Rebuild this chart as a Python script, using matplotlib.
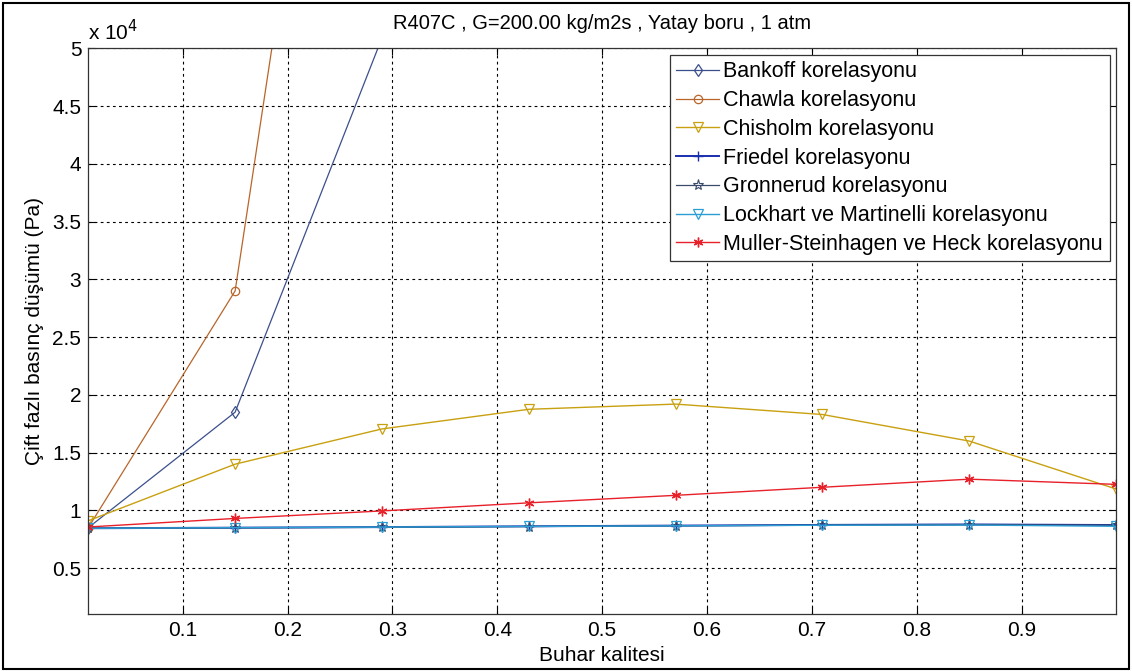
import matplotlib
matplotlib.use("Agg")
import matplotlib.pyplot as plt
from matplotlib.patches import Rectangle
from matplotlib.ticker import FuncFormatter

plt.rcParams['font.family'] = ['Liberation Sans', 'DejaVu Sans']

# Vapour quality points
quality = [0.01, 0.15, 0.29, 0.43, 0.57, 0.71, 0.85, 0.99]

# Two-phase pressure drop (Pa) for each correlation
bankoff = [8500, 18500, 50900]
chawla = [8500, 29000, 113000]
chisholm = [9100, 14000, 17050, 18750, 19200, 18300, 16000, 11850]
friedel = [8450, 8500, 8550, 8620, 8680, 8740, 8780, 8730]
gronnerud = [8450, 8480, 8530, 8600, 8660, 8720, 8760, 8720]
lockhart = [8450, 8500, 8550, 8610, 8660, 8710, 8730, 8620]
muller = [8560, 9300, 9950, 10650, 11300, 12000, 12700, 12250]

labels = [
    "Bankoff korelasyonu",
    "Chawla korelasyonu",
    "Chisholm korelasyonu",
    "Friedel korelasyonu",
    "Gronnerud korelasyonu",
    "Lockhart ve Martinelli korelasyonu",
    "Muller-Steinhagen ve Heck korelasyonu",
]

x_ticks = [0.1, 0.2, 0.3, 0.4, 0.5, 0.6, 0.7, 0.8, 0.9]
y_ticks = [5000, 10000, 15000, 20000, 25000, 30000, 35000, 40000, 45000, 50000]

fig = plt.figure(figsize=(11.32, 6.71), dpi=100)
ax = fig.add_axes([0.078, 0.0845, 0.9079, 0.8434])

asterisk = (6, 2, 0)
ms = 6
ax.plot(quality[:len(bankoff)], bankoff, color='#3b4f8c', lw=0.9, marker='d',
        mfc='none', ms=ms, mew=0.9, label=labels[0])
ax.plot(quality[:len(chawla)], chawla, color='#b8652a', lw=0.9, marker='o',
        mfc='none', ms=ms, mew=0.9, label=labels[1])
ax.plot(quality, chisholm, color='#c8a010', lw=1.0, marker='v',
        mfc='none', ms=7, mew=0.9, label=labels[2])
ax.plot(quality, friedel, color='#1a2fb0', lw=1.4, marker='+',
        ms=7, mew=1.0, label=labels[3])
ax.plot(quality, gronnerud, color='#3a4a6a', lw=0.9, marker='*',
        mfc='none', ms=8, mew=0.8, label=labels[4])
ax.plot(quality, lockhart, color='#2b9fd4', lw=1.0, marker='v',
        mfc='none', ms=7, mew=0.9, label=labels[5])
ax.plot(quality, muller, color='#e8202a', lw=1.0, marker=asterisk,
        ms=7, mew=1.0, label=labels[6])

ax.set_xlim(0.01, 0.99)
ax.set_ylim(1000, 50000)
ax.set_xticks(x_ticks)
ax.set_yticks(y_ticks)
ax.xaxis.set_major_formatter(FuncFormatter(lambda v, p: f"{v:g}"))
ax.yaxis.set_major_formatter(FuncFormatter(lambda v, p: f"{v / 1e4:g}"))
ax.tick_params(direction='in', length=5, width=0.8, labelsize=15,
               top=True, right=True, pad=5)
ax.grid(True, color='black', linestyle=(0, (2.5, 3)), linewidth=0.8)
for s in ax.spines.values():
    s.set_linewidth(0.9)
    s.set_color('#333333')

ax.text(0.0, 1.008, r"x 10$^{4}$", transform=ax.transAxes, fontsize=15,
        ha='left', va='bottom')
ax.set_title("R407C , G=200.00 kg/m2s , Yatay boru , 1 atm", fontsize=14.5, pad=14)
ax.set_xlabel("Buhar kalitesi", fontsize=15, labelpad=4)
ax.set_ylabel("Çift fazlı basınç düşümü (Pa)", fontsize=15, labelpad=6)

leg = ax.legend(loc='upper right', fontsize=15.5, frameon=True, fancybox=False,
                edgecolor='#333333', framealpha=1, labelspacing=0.36,
                handlelength=2.0, handletextpad=0.2, borderpad=0.3,
                borderaxespad=0.3)
leg.get_frame().set_linewidth(0.9)

fig.add_artist(Rectangle((0.003, 0.003), 0.994, 0.992, transform=fig.transFigure,
                         fill=False, edgecolor='black', linewidth=1.5))

fig.savefig("out.png", dpi=100, facecolor='white')
